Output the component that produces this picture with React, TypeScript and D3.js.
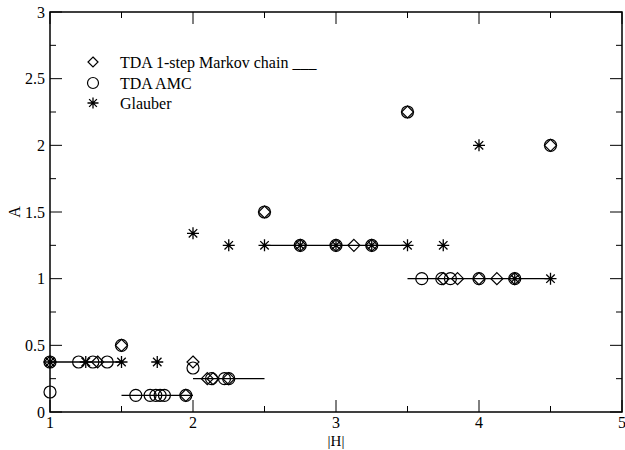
import React from 'react';
import * as d3 from 'd3';

// TDA 1-step Markov chain (diamonds)
const markovH = [1, 1.333, 1.5, 1.95, 2, 2.1, 2.14, 2.25, 2.5, 2.75, 3, 3.125, 3.25, 3.5, 3.75, 3.85, 4, 4.125, 4.25, 4.5];
const markovA = [0.375, 0.375, 0.5, 0.125, 0.375, 0.25, 0.25, 0.25, 1.5, 1.25, 1.25, 1.25, 1.25, 2.25, 1, 1, 1, 1, 1, 2];

// TDA AMC (circles)
const amcH = [1, 1, 1.2, 1.3, 1.4, 1.5, 1.6, 1.7, 1.74, 1.77, 1.8, 1.95, 2, 2.13, 2.22, 2.25, 2.5, 2.75, 3, 3.25, 3.5, 3.6, 3.74, 3.8, 4, 4.25, 4.5];
const amcA = [0.375, 0.15, 0.375, 0.375, 0.375, 0.5, 0.125, 0.125, 0.125, 0.125, 0.125, 0.125, 0.33, 0.25, 0.25, 0.25, 1.5, 1.25, 1.25, 1.25, 2.25, 1, 1, 1, 1, 1, 2];

// Glauber (stars)
const glauberH = [1, 1.25, 1.5, 1.75, 2, 2.25, 2.5, 2.75, 3, 3.25, 3.5, 3.75, 4, 4.25, 4.5];
const glauberA = [0.375, 0.375, 0.375, 0.375, 1.34, 1.25, 1.25, 1.25, 1.25, 1.25, 1.25, 1.25, 2, 1, 1];

// step lines of the 1-step Markov chain
const stepFrom = [1, 1.5, 2, 2.5, 3.5];
const stepTo = [1.5, 2, 2.5, 3.5, 4.5];
const stepA = [0.375, 0.125, 0.25, 1.25, 1];

const xTicks = [1, 2, 3, 4, 5];
const yTicks = [0, 0.5, 1, 1.5, 2, 2.5, 3];
const xMinor = [1.5, 2.5, 3.5, 4.5];
const yMinor = [0.25, 0.75, 1.25, 1.75, 2.25, 2.75];

const legendLabels = ['TDA 1-step Markov chain ___', 'TDA AMC', 'Glauber'];

const W = 625, H = 450;
const left = 50, right = 622, top = 12, bottom = 412;
const font = '"Liberation Serif", "Times New Roman", serif';

const Diamond = ({ cx, cy, r }: { cx: number; cy: number; r: number }) => (
  <path d={`M${cx},${cy - r}L${cx + r},${cy}L${cx},${cy + r}L${cx - r},${cy}Z`} fill="none" stroke="#000" strokeWidth={1.2} />
);
const Circ = ({ cx, cy, r }: { cx: number; cy: number; r: number }) => (
  <circle cx={cx} cy={cy} r={r} fill="none" stroke="#000" strokeWidth={1.2} />
);
const Star = ({ cx, cy, r }: { cx: number; cy: number; r: number }) => {
  const d = r * Math.SQRT1_2;
  return (
    <path
      d={`M${cx - r},${cy}L${cx + r},${cy}M${cx},${cy - r}L${cx},${cy + r}M${cx - d},${cy - d}L${cx + d},${cy + d}M${cx - d},${cy + d}L${cx + d},${cy - d}`}
      stroke="#000" strokeWidth={1.3} fill="none" />
  );
};

export default function App() {
  const x = d3.scaleLinear().domain([1, 5]).range([left, right]);
  const y = d3.scaleLinear().domain([0, 3]).range([bottom, top]);
  const major = 12, minor = 6;

  return (
    <svg width={W} height={H} style={{ position: 'absolute', left: 0, top: 0, background: '#fff' }} fontFamily={font}>
      <rect x={0} y={0} width={W} height={H} fill="#fff" />
      {/* ticks on all four sides */}
      {xTicks.map(t => (
        <g key={'xt' + t}>
          <line x1={x(t)} x2={x(t)} y1={bottom} y2={bottom - major} stroke="#000" />
          <line x1={x(t)} x2={x(t)} y1={top} y2={top + major} stroke="#000" />
          <text x={x(t)} y={bottom + 16} fontSize={16} textAnchor="middle">{t}</text>
        </g>
      ))}
      {xMinor.map(t => (
        <g key={'xm' + t}>
          <line x1={x(t)} x2={x(t)} y1={bottom} y2={bottom - minor} stroke="#000" />
          <line x1={x(t)} x2={x(t)} y1={top} y2={top + minor} stroke="#000" />
        </g>
      ))}
      {yTicks.map(t => (
        <g key={'yt' + t}>
          <line x1={left} x2={left + major} y1={y(t)} y2={y(t)} stroke="#000" />
          <line x1={right} x2={right - major} y1={y(t)} y2={y(t)} stroke="#000" />
          <text x={left - 5} y={y(t)} dy="0.35em" fontSize={16} textAnchor="end">{t}</text>
        </g>
      ))}
      {yMinor.map(t => (
        <g key={'ym' + t}>
          <line x1={left} x2={left + minor} y1={y(t)} y2={y(t)} stroke="#000" />
          <line x1={right} x2={right - minor} y1={y(t)} y2={y(t)} stroke="#000" />
        </g>
      ))}
      <rect x={left} y={top} width={right - left} height={bottom - top} fill="none" stroke="#000" strokeWidth={1.5} />

      <text x={(left + right) / 2} y={446} fontSize={15} textAnchor="middle">|H|</text>
      <text transform={`translate(20,${y(1.5)}) rotate(-90)`} fontSize={16} textAnchor="middle">A</text>

      {/* step lines */}
      {stepA.map((a, i) => (
        <line key={'s' + i} x1={x(stepFrom[i])} x2={x(stepTo[i])} y1={y(a)} y2={y(a)} stroke="#000" strokeWidth={1.3} />
      ))}

      {markovH.map((h, i) => <Diamond key={'d' + i} cx={x(h)} cy={y(markovA[i])} r={6} />)}
      {amcH.map((h, i) => <Circ key={'c' + i} cx={x(h)} cy={y(amcA[i])} r={6} />)}
      {glauberH.map((h, i) => <Star key={'g' + i} cx={x(h)} cy={y(glauberA[i])} r={6} />)}

      {/* legend */}
      <Diamond cx={93} cy={62} r={5} />
      <Circ cx={93} cy={83} r={5.5} />
      <Star cx={93} cy={103} r={5.5} />
      {legendLabels.map((l, i) => (
        <text key={l} x={120} y={68 + i * 20.5} fontSize={16}>{l}</text>
      ))}
    </svg>
  );
}
